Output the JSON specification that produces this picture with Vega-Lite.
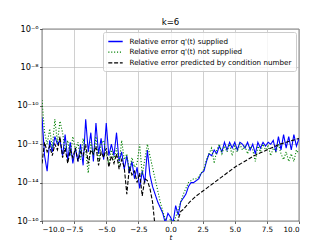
{
  "$schema": "https://vega.github.io/schema/vega-lite/v6.json",
  "width": 257,
  "height": 192,
  "autosize": {"type": "none"},
  "padding": {"left": 42, "top": 29, "right": 33, "bottom": 28},
  "background": "white",
  "title": {"text": "k=6", "fontSize": 8.6, "fontWeight": "normal", "font": "DejaVu Sans", "color": "black", "offset": -2.5, "frame": "group"},
  "config": {
    "font": "DejaVu Sans",
    "view": {"stroke": "black", "strokeWidth": 0.6},
    "axis": {
      "labelFontSize": 7.2, "labelColor": "black", "labelFont": "DejaVu Sans",
      "tickColor": "black", "tickSize": 2.5, "tickWidth": 0.6,
      "domain": false, "gridColor": "#b0b0b0", "gridWidth": 0.6,
      "labelPadding": 1.5, "titleFontSize": 7.2, "titleFontWeight": "normal",
      "titleColor": "black", "titleFont": "DejaVu Sans", "titlePadding": 1
    },
    "legend": {
      "orient": "top-right", "offset": 3, "title": null,
      "fillColor": "rgba(255,255,255,0.8)", "strokeColor": "#cccccc", "cornerRadius": 2,
      "padding": 4, "labelFontSize": 7.2, "labelColor": "black", "labelFont": "DejaVu Sans",
      "labelLimit": 300,
      "symbolType": "M-1.6,0H1.6", "symbolSize": 81, "symbolStrokeWidth": 1.3,
      "symbolOffset": 3,
      "rowPadding": 1.7, "labelOffset": 8.5
    }
  },
  "datasets": {
    "sup": [
      {"t": -10.0, "v": 2.51e-11}, {"t": -9.8, "v": 2.51e-13}, {"t": -9.6, "v": 3.98e-14}, {"t": -9.4, "v": 1.58e-12},
      {"t": -9.2, "v": 3.98e-13}, {"t": -9.0, "v": 2.51e-12}, {"t": -8.8, "v": 1e-12}, {"t": -8.6, "v": 1.58e-12},
      {"t": -8.4, "v": 2.51e-13}, {"t": -8.2, "v": 3.16e-12}, {"t": -8.0, "v": 1.58e-13}, {"t": -7.8, "v": 1.26e-12},
      {"t": -7.6, "v": 1e-13}, {"t": -7.4, "v": 6.31e-13}, {"t": -7.2, "v": 1.26e-13}, {"t": -7.0, "v": 1e-12},
      {"t": -6.8, "v": 7.94e-14}, {"t": -6.6, "v": 2.0e-11}, {"t": -6.4, "v": 3.98e-13}, {"t": -6.2, "v": 3.98e-12},
      {"t": -6.0, "v": 1.26e-13}, {"t": -5.8, "v": 1.26e-11}, {"t": -5.6, "v": 3.16e-13}, {"t": -5.4, "v": 2.0e-12},
      {"t": -5.2, "v": 1.58e-13}, {"t": -5.0, "v": 1.26e-11}, {"t": -4.8, "v": 2.51e-13}, {"t": -4.6, "v": 1e-12},
      {"t": -4.4, "v": 2.51e-13}, {"t": -4.2, "v": 3.98e-12}, {"t": -4.0, "v": 1.26e-13}, {"t": -3.8, "v": 3.98e-13},
      {"t": -3.6, "v": 5.01e-14}, {"t": -3.4, "v": 2.51e-13}, {"t": -3.2, "v": 3.16e-14}, {"t": -3.0, "v": 1.26e-13},
      {"t": -2.8, "v": 1.58e-14}, {"t": -2.6, "v": 6.31e-14}, {"t": -2.4, "v": 5.01e-15}, {"t": -2.2, "v": 3.98e-14},
      {"t": -2.0, "v": 1e-14}, {"t": -1.8, "v": 5.01e-13}, {"t": -1.6, "v": 2.51e-14}, {"t": -1.4, "v": 6.31e-15},
      {"t": -1.2, "v": 2.51e-15}, {"t": -1.0, "v": 1e-15}, {"t": -0.8, "v": 5.01e-16}, {"t": -0.6, "v": 2.51e-16},
      {"t": -0.4, "v": 7.94e-17}, {"t": -0.2, "v": 2.51e-16}, {"t": 0.0, "v": 1.58e-16}, {"t": 0.2, "v": 7.94e-17},
      {"t": 0.4, "v": 6.31e-16}, {"t": 0.6, "v": 2.0e-16}, {"t": 0.8, "v": 1e-15}, {"t": 1.0, "v": 1.58e-15},
      {"t": 1.2, "v": 2.51e-15}, {"t": 1.4, "v": 6.31e-15}, {"t": 1.6, "v": 1e-14}, {"t": 1.8, "v": 1e-14},
      {"t": 2.0, "v": 1.26e-14}, {"t": 2.2, "v": 1.58e-14}, {"t": 2.4, "v": 3.16e-14}, {"t": 2.6, "v": 3.98e-14},
      {"t": 2.8, "v": 1.26e-13}, {"t": 3.0, "v": 3.16e-13}, {"t": 3.2, "v": 2.51e-13}, {"t": 3.4, "v": 5.01e-13},
      {"t": 3.6, "v": 3.16e-13}, {"t": 3.8, "v": 7.94e-13}, {"t": 4.0, "v": 3.98e-13}, {"t": 4.2, "v": 1.26e-12},
      {"t": 4.4, "v": 5.01e-13}, {"t": 4.6, "v": 1.26e-12}, {"t": 4.8, "v": 6.31e-13}, {"t": 5.0, "v": 1.26e-12},
      {"t": 5.2, "v": 5.01e-13}, {"t": 5.4, "v": 1.26e-12}, {"t": 5.6, "v": 1e-12}, {"t": 5.8, "v": 6.31e-13},
      {"t": 6.0, "v": 1.26e-12}, {"t": 6.2, "v": 5.01e-13}, {"t": 6.4, "v": 1e-12}, {"t": 6.6, "v": 3.16e-13},
      {"t": 6.8, "v": 1.26e-12}, {"t": 7.0, "v": 6.31e-13}, {"t": 7.2, "v": 1.26e-12}, {"t": 7.4, "v": 7.94e-13},
      {"t": 7.6, "v": 1.26e-12}, {"t": 7.8, "v": 1e-12}, {"t": 8.0, "v": 1.58e-12}, {"t": 8.2, "v": 3.98e-13},
      {"t": 8.4, "v": 2.51e-12}, {"t": 8.6, "v": 5.01e-13}, {"t": 8.8, "v": 3.16e-12}, {"t": 9.0, "v": 6.31e-13},
      {"t": 9.2, "v": 2.51e-12}, {"t": 9.4, "v": 5.01e-13}, {"t": 9.6, "v": 3.16e-12}, {"t": 9.8, "v": 7.94e-13},
      {"t": 10.0, "v": 2.0e-12}
    ],
    "nsup": [
      {"t": -10.0, "v": 2.0e-10}, {"t": -9.8, "v": 3.98e-12}, {"t": -9.6, "v": 1e-12}, {"t": -9.4, "v": 6.31e-12},
      {"t": -9.2, "v": 6.31e-13}, {"t": -9.0, "v": 2.0e-11}, {"t": -8.8, "v": 1.26e-12}, {"t": -8.6, "v": 1.58e-11},
      {"t": -8.4, "v": 3.98e-12}, {"t": -8.2, "v": 3.98e-13}, {"t": -8.0, "v": 1.58e-12}, {"t": -7.8, "v": 2.51e-13},
      {"t": -7.6, "v": 2.51e-12}, {"t": -7.4, "v": 5.01e-13}, {"t": -7.2, "v": 1.26e-12}, {"t": -7.0, "v": 1.58e-13},
      {"t": -6.8, "v": 2.0e-12}, {"t": -6.6, "v": 3.98e-13}, {"t": -6.4, "v": 3.16e-14}, {"t": -6.2, "v": 1.26e-12},
      {"t": -6.0, "v": 2.51e-13}, {"t": -5.8, "v": 2.51e-12}, {"t": -5.6, "v": 1.26e-13}, {"t": -5.4, "v": 1e-12},
      {"t": -5.2, "v": 1.58e-12}, {"t": -5.0, "v": 3.16e-13}, {"t": -4.8, "v": 1e-13}, {"t": -4.6, "v": 5.01e-13},
      {"t": -4.4, "v": 1.58e-13}, {"t": -4.2, "v": 6.31e-13}, {"t": -4.0, "v": 7.94e-14}, {"t": -3.8, "v": 1.58e-12},
      {"t": -3.6, "v": 1.58e-13}, {"t": -3.4, "v": 3.16e-13}, {"t": -3.2, "v": 3.98e-14}, {"t": -3.0, "v": 2.0e-13},
      {"t": -2.8, "v": 6.31e-14}, {"t": -2.6, "v": 1e-13}, {"t": -2.4, "v": 1e-12}, {"t": -2.2, "v": 2.51e-14},
      {"t": -2.0, "v": 1.58e-13}, {"t": -1.8, "v": 1e-12}, {"t": -1.6, "v": 2.51e-13}, {"t": -1.4, "v": 6.31e-14},
      {"t": -1.2, "v": 1.58e-14}, {"t": -1.0, "v": 3.98e-15}, {"t": -0.8, "v": 1e-15}, {"t": -0.6, "v": 3.16e-16},
      {"t": -0.4, "v": 1.26e-16}, {"t": -0.2, "v": 6.31e-17}, {"t": 0.0, "v": 1.26e-16}, {"t": 0.2, "v": 6.31e-17},
      {"t": 0.4, "v": 1.58e-16}, {"t": 0.6, "v": 3.98e-16}, {"t": 0.8, "v": 1e-15}, {"t": 1.0, "v": 2.51e-15},
      {"t": 1.2, "v": 5.01e-15}, {"t": 1.4, "v": 1e-14}, {"t": 1.6, "v": 1.26e-14}, {"t": 1.8, "v": 1.58e-14},
      {"t": 2.0, "v": 1.58e-14}, {"t": 2.2, "v": 2.0e-14}, {"t": 2.4, "v": 3.16e-14}, {"t": 2.6, "v": 5.01e-14},
      {"t": 2.8, "v": 1.58e-13}, {"t": 3.0, "v": 3.16e-13}, {"t": 3.2, "v": 6.31e-13}, {"t": 3.4, "v": 1e-13},
      {"t": 3.6, "v": 5.01e-13}, {"t": 3.8, "v": 1e-12}, {"t": 4.0, "v": 3.16e-13}, {"t": 4.2, "v": 7.94e-13},
      {"t": 4.4, "v": 3.98e-13}, {"t": 4.6, "v": 1e-12}, {"t": 4.8, "v": 2.51e-13}, {"t": 5.0, "v": 7.94e-13},
      {"t": 5.2, "v": 3.98e-13}, {"t": 5.4, "v": 1e-12}, {"t": 5.6, "v": 5.01e-13}, {"t": 5.8, "v": 7.94e-13},
      {"t": 6.0, "v": 3.16e-13}, {"t": 6.2, "v": 7.94e-13}, {"t": 6.4, "v": 5.01e-13}, {"t": 6.6, "v": 1.26e-13},
      {"t": 6.8, "v": 7.94e-13}, {"t": 7.0, "v": 3.98e-13}, {"t": 7.2, "v": 1e-12}, {"t": 7.4, "v": 5.01e-13},
      {"t": 7.6, "v": 7.94e-13}, {"t": 7.8, "v": 2.51e-13}, {"t": 8.0, "v": 6.31e-13}, {"t": 8.2, "v": 3.98e-13},
      {"t": 8.4, "v": 1e-12}, {"t": 8.6, "v": 3.16e-13}, {"t": 8.8, "v": 1.58e-13}, {"t": 9.0, "v": 3.98e-13},
      {"t": 9.2, "v": 1.26e-13}, {"t": 9.4, "v": 3.16e-13}, {"t": 9.6, "v": 1.26e-13}, {"t": 9.8, "v": 5.01e-13},
      {"t": 10.0, "v": 3.16e-13}
    ],
    "cond": [
      {"t": -10.0, "v": 1e-13}, {"t": -9.8, "v": 1.26e-12}, {"t": -9.6, "v": 3.98e-13}, {"t": -9.4, "v": 7.94e-13},
      {"t": -9.2, "v": 2.51e-13}, {"t": -9.0, "v": 1e-12}, {"t": -8.8, "v": 5.01e-13}, {"t": -8.6, "v": 2.51e-12},
      {"t": -8.4, "v": 2.0e-13}, {"t": -8.2, "v": 6.31e-13}, {"t": -8.0, "v": 1e-13}, {"t": -7.8, "v": 5.01e-13},
      {"t": -7.6, "v": 2.0e-13}, {"t": -7.4, "v": 6.31e-13}, {"t": -7.2, "v": 1.26e-13}, {"t": -7.0, "v": 3.98e-13},
      {"t": -6.8, "v": 2.51e-13}, {"t": -6.6, "v": 1e-12}, {"t": -6.4, "v": 1e-13}, {"t": -6.2, "v": 5.01e-13},
      {"t": -6.0, "v": 3.16e-13}, {"t": -5.8, "v": 7.94e-13}, {"t": -5.6, "v": 7.94e-14}, {"t": -5.4, "v": 3.98e-13},
      {"t": -5.2, "v": 2.0e-13}, {"t": -5.0, "v": 6.31e-13}, {"t": -4.8, "v": 6.31e-14}, {"t": -4.6, "v": 2.51e-13},
      {"t": -4.4, "v": 1e-13}, {"t": -4.2, "v": 3.16e-13}, {"t": -4.0, "v": 5.01e-14}, {"t": -3.8, "v": 1.58e-13},
      {"t": -3.6, "v": 6.31e-14}, {"t": -3.4, "v": 2.51e-15}, {"t": -3.2, "v": 6.31e-14}, {"t": -3.0, "v": 2.51e-14},
      {"t": -2.8, "v": 3.98e-14}, {"t": -2.6, "v": 1e-14}, {"t": -2.4, "v": 3.16e-14}, {"t": -2.2, "v": 2.0e-15},
      {"t": -2.0, "v": 1.58e-14}, {"t": -1.8, "v": 1.26e-14}, {"t": -1.6, "v": 5.01e-15}, {"t": -1.4, "v": 1e-15},
      {"t": -1.2, "v": 5.01e-17}, {"t": -1.0, "v": 1e-17}, {"t": 0.4, "v": 1e-17}, {"t": 0.6, "v": 1.26e-16},
      {"t": 0.8, "v": 3.16e-16}, {"t": 1.0, "v": 3.98e-16}, {"t": 1.5, "v": 1e-15}, {"t": 2.0, "v": 2.0e-15},
      {"t": 2.5, "v": 3.55e-15}, {"t": 3.0, "v": 6.31e-15}, {"t": 3.5, "v": 1.12e-14}, {"t": 4.0, "v": 2.0e-14},
      {"t": 4.5, "v": 3.55e-14}, {"t": 5.0, "v": 6.31e-14}, {"t": 5.5, "v": 1e-13}, {"t": 6.0, "v": 1.58e-13},
      {"t": 6.5, "v": 2.51e-13}, {"t": 7.0, "v": 3.55e-13}, {"t": 7.5, "v": 5.01e-13}, {"t": 8.0, "v": 7.08e-13},
      {"t": 8.5, "v": 1e-12}, {"t": 9.0, "v": 1.26e-12}, {"t": 9.5, "v": 1.58e-12}, {"t": 10.0, "v": 2.0e-12}
    ]
  },
  "encoding": {
    "x": {
      "field": "t", "type": "quantitative",
      "scale": {"domain": [-10, 10], "nice": false},
      "axis": {
        "values": [-10, -7.5, -5, -2.5, 0, 2.5, 5, 7.5, 10],
        "labelExpr": "replace(format(datum.value, '.1f'), '-', '−')",
        "title": "t", "titleFontStyle": "italic", "grid": true
      }
    },
    "y": {
      "field": "v", "type": "quantitative",
      "scale": {"type": "log", "domain": [1e-16, 1e-6], "nice": false},
      "axis": {
        "values": [1e-16, 1e-14, 1e-12, 1e-10, 1e-8, 1e-6],
        "labelExpr": "datum.value > 5e-7 ? '10⁻⁶' : datum.value > 5e-9 ? '10⁻⁸' : datum.value > 5e-11 ? '10⁻¹⁰' : datum.value > 5e-13 ? '10⁻¹²' : datum.value > 5e-15 ? '10⁻¹⁴' : '10⁻¹⁶'",
        "labelFontSize": 8.2,
        "title": null, "grid": true
      }
    }
  },
  "layer": [
    {
      "data": {"name": "sup"},
      "mark": {"type": "line", "strokeWidth": 1.1, "clip": true},
      "encoding": {
        "color": {
          "datum": "Relative error q'(t) supplied",
          "scale": {
            "domain": ["Relative error q'(t) supplied", "Relative error q'(t) not supplied", "Relative error predicted by condition number"],
            "range": ["#0000ff", "#008000", "#000000"]
          }
        },
        "strokeDash": {
          "datum": "Relative error q'(t) supplied",
          "scale": {
            "domain": ["Relative error q'(t) supplied", "Relative error q'(t) not supplied", "Relative error predicted by condition number"],
            "range": [[1, 0], [1.1, 1.8], [4, 1.8]]
          }
        }
      }
    },
    {
      "data": {"name": "nsup"},
      "mark": {"type": "line", "strokeWidth": 1.1, "clip": true},
      "encoding": {
        "color": {"datum": "Relative error q'(t) not supplied"},
        "strokeDash": {"datum": "Relative error q'(t) not supplied"}
      }
    },
    {
      "data": {"name": "cond"},
      "mark": {"type": "line", "strokeWidth": 1.1, "clip": true},
      "encoding": {
        "color": {"datum": "Relative error predicted by condition number"},
        "strokeDash": {"datum": "Relative error predicted by condition number"}
      }
    }
  ]
}
